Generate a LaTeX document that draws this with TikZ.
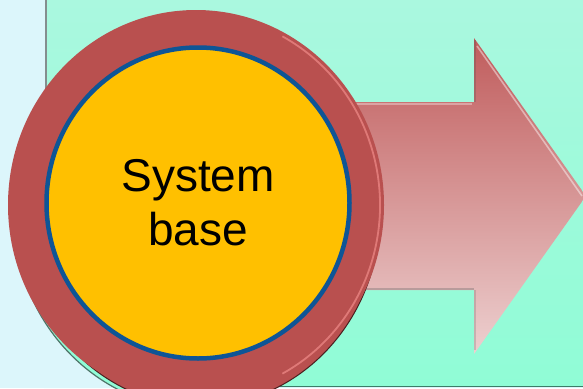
\documentclass[tikz,border=0pt]{standalone}
\usepackage{fontspec}
\setmainfont{Liberation Sans}
\usetikzlibrary{shapes.geometric}
\definecolor{pagecyan}{HTML}{DCF6FB}
\definecolor{minttop}{HTML}{AAF8DF}
\definecolor{mintbot}{HTML}{90FCD6}
\definecolor{mintedge}{HTML}{4E7468}
\definecolor{bottomline}{HTML}{3E7B68}
\definecolor{leftline}{HTML}{848E8E}
\definecolor{ringred}{HTML}{B9504F}
\definecolor{ringhl}{HTML}{E98482}
\definecolor{arrowtop}{HTML}{C05C5C}
\definecolor{arrowbot}{HTML}{EDD0D0}
\definecolor{goldfill}{HTML}{FFC000}
\definecolor{coreblue}{HTML}{0E5596}
\tikzset{
  panel/.style={top color=minttop, bottom color=mintbot},
  crescent/.style={fill=mintbot, draw=mintedge, line width=1.2pt},
  ringstyle/.style={fill=ringred},
  ringshadow/.style={fill=ringred, draw=black!60!ringred, line width=1pt},
  arrowbody/.style={top color=arrowtop, bottom color=arrowbot},
  corestyle/.style={ellipse, fill=goldfill, draw=coreblue, line width=4.5pt,
    minimum width=303pt, minimum height=311pt, inner sep=0pt, align=center,
    font=\fontsize{46}{56}\selectfont, text=black}
}
\begin{document}
\begin{tikzpicture}[x=1pt,y=-1pt]
\useasboundingbox (0,0) rectangle (583,388);
% page background
\fill[pagecyan] (0,0) rectangle (583,388);
% mint panel
\shade[panel] (47,0) rectangle (583,386);
\draw[leftline, line width=1.5pt] (46,0) -- (46,386);
\draw[bottomline, line width=1.6pt] (47,386.5) -- (583,386.5);
% cut-away of the panel at bottom left
\begin{scope}
  \clip (44,215) rectangle (202,388);
  \fill[pagecyan, even odd rule] (44,215) rectangle (202,388)
     (202,215) ellipse [x radius=188, y radius=195];
\end{scope}
% crescent behind the ring
\begin{scope}
  \clip (0,215) rectangle (200,388);
  \draw[crescent] (202,215) ellipse [x radius=188, y radius=195];
\end{scope}
% arrow
\path[arrowbody] (330,102) coordinate (b1) -- (474,102) coordinate (n1)
  -- (474,38) coordinate (h1) -- (586,196) coordinate (tip)
  -- (474,354) coordinate (h2) -- (474,290) coordinate (n2)
  -- (330,290) coordinate (b2) -- cycle;
\draw[white, opacity=0.35, line width=2pt] (340,104) -- (472,104);
\draw[white, opacity=0.45, line width=1.6pt] (477,46) -- (582,196);
\draw[black!60, opacity=0.35, line width=2pt] (340,289) -- (474,289);
\draw[black!70, opacity=0.25, line width=2pt] (475,40) -- (475,102);
\draw[black!60, opacity=0.25, line width=1.5pt] (475,290) -- (475,350);
% lower shadow of the ring
\path[ringshadow] (200,214) ellipse [x radius=180, y radius=192];
% red ring
\fill[ringstyle] (196,205) ellipse [x radius=188, y radius=195];
\draw[ringhl, line width=1.8pt, opacity=0.8] (196,205) ++(-62:184 and 191)
  arc[start angle=-62, end angle=62, x radius=184, y radius=191];
% core
\node[corestyle] (core) at (198,203) {System\\[-2pt]base};
\end{tikzpicture}
\end{document}
